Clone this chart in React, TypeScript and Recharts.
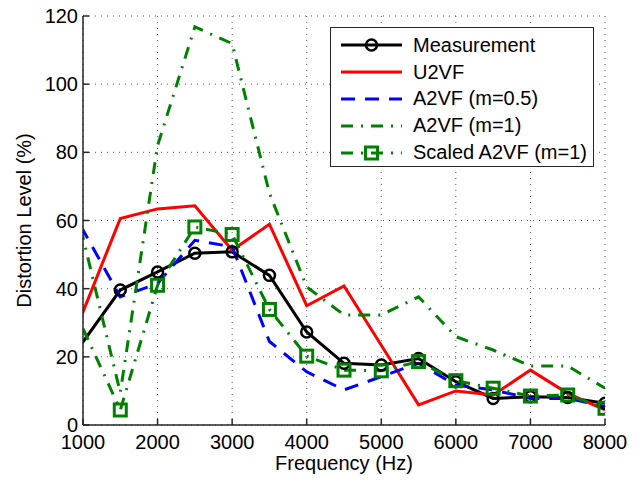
import { LineChart, Line, XAxis, YAxis, CartesianGrid } from "recharts";

// frequency points (Hz); the first point lies left of the visible axis and is clipped
const frequencies = [500, 1500, 2000, 2500, 3000, 3500, 4000, 4500, 5000, 5500, 6000, 6500, 7000, 7500, 8000];

// distortion level (%)
const measurement = [9.2, 39.6, 44.9, 50.4, 50.8, 43.9, 27.3, 18.1, 17.6, 19.5, 12.7, 7.8, 8.3, 8.1, 6.4];
const u2vf = [5.8, 60.6, 63.4, 64.3, 51.3, 58.9, 35.0, 40.8, 23.4, 5.9, 10.0, 8.8, 16.1, 9.3, 4.4];
const a2vfHalf = [76.8, 37.6, 41.5, 54.2, 52.3, 24.5, 15.6, 10.3, 14.2, 18.1, 11.7, 10.3, 7.8, 7.8, 5.4];
const a2vfOne = [100.5, 9.5, 82, 116.8, 111.9, 68, 40.5, 32.3, 32.3, 37.6, 25.9, 22, 17.3, 17.3, 10.8];
const scaledA2vf = [52.2, 4.4, 41, 58.1, 55.9, 33.9, 20.2, 16.1, 15.9, 18.6, 13, 10.8, 8.5, 8.8, 4.9];

const xTicks = [1000, 2000, 3000, 4000, 5000, 6000, 7000, 8000];
const yTicks = [0, 20, 40, 60, 80, 100, 120];
const X_MIN = 1000;
const X_MAX = 8000;

const FONT = '"Liberation Sans", Arial, Helvetica, sans-serif';
const AXIS = "#262626";

const data = frequencies.map((f, i) => ({
  freq: f,
  measurement: measurement[i],
  u2vf: u2vf[i],
  a2vfHalf: a2vfHalf[i],
  a2vfOne: a2vfOne[i],
  scaled: scaledA2vf[i],
}));

type Marker = "circle" | "square" | null;

const SERIES: { key: string; name: string; color: string; dash?: string; marker: Marker }[] = [
  { key: "measurement", name: "Measurement", color: "#000000", marker: "circle" },
  { key: "u2vf", name: "U2VF", color: "#ff0000", marker: null },
  { key: "a2vfHalf", name: "A2VF (m=0.5)", color: "#0000ff", dash: "14 10", marker: null },
  { key: "a2vfOne", name: "A2VF (m=1)", color: "#008000", dash: "12 8 2 8", marker: null },
  { key: "scaled", name: "Scaled A2VF (m=1)", color: "#008000", dash: "12 8 2 8", marker: "square" },
];

function drawMarker(marker: Marker, color: string, cx: number, cy: number) {
  if (marker === "circle") {
    return <circle cx={cx} cy={cy} r={5.5} fill="none" stroke={color} strokeWidth={2.5} />;
  }
  if (marker === "square") {
    return <rect x={cx - 6} y={cy - 6} width={12} height={12} fill="none" stroke={color} strokeWidth={3} />;
  }
  return null;
}

// marker for a Line; points outside the visible x range are not drawn
const MarkerDot = (props: any) => {
  const { cx, cy, payload, marker, color } = props;
  if (cx == null || cy == null || !payload || payload.freq < X_MIN) return <g />;
  return <g>{drawMarker(marker, color, cx, cy)}</g>;
};

const YLabel = (props: any) => {
  const vb = props.viewBox || {};
  const x = 24;
  const y = vb.y + vb.height / 2;
  return (
    <text
      x={x}
      y={y}
      transform={`rotate(-90 ${x} ${y})`}
      textAnchor="middle"
      dominantBaseline="central"
      fontSize={20}
      fontFamily={FONT}
      fill="#000"
    >
      Distortion Level (%)
    </text>
  );
};

const XLabel = (props: any) => {
  const vb = props.viewBox || {};
  return (
    <text x={vb.x + vb.width / 2} y={470} textAnchor="middle" fontSize={20} fontFamily={FONT} fill="#000">
      Frequency (Hz)
    </text>
  );
};

function LegendBox() {
  return (
    <div
      style={{
        position: "absolute",
        left: 330,
        top: 27,
        width: 264,
        height: 140,
        border: `1.5px solid ${AXIS}`,
        background: "#fff",
        paddingTop: 4,
        boxSizing: "border-box",
        fontFamily: FONT,
        fontSize: 20,
        color: "#000",
      }}
    >
      {SERIES.map((s) => (
        <div key={s.key} style={{ display: "flex", alignItems: "center", height: 26.8 }}>
          <svg width={64} height={20} style={{ marginLeft: 9, marginRight: 9 }}>
            <line x1={1} y1={10} x2={62} y2={10} stroke={s.color} strokeWidth={3} strokeDasharray={s.dash} />
            {drawMarker(s.marker, s.color, 31.5, 10)}
          </svg>
          <span>{s.name}</span>
        </div>
      ))}
    </div>
  );
}

export default function App() {
  const tickStyle = { fontSize: 20, fontFamily: FONT, fill: "#000" };
  return (
    <div style={{ position: "absolute", left: 0, top: 0, width: 642, height: 481, background: "#fff" }}>
      <LineChart width={642} height={481} data={data} margin={{ top: 16, right: 37, bottom: 0, left: 0 }}>
        <CartesianGrid stroke="#555" strokeDasharray="1 5" horizontalValues={yTicks} verticalValues={xTicks} />
        <XAxis
          dataKey="freq"
          type="number"
          domain={[X_MIN, X_MAX]}
          allowDataOverflow
          ticks={xTicks}
          height={56}
          tick={tickStyle}
          tickSize={-6}
          tickMargin={16}
          stroke={AXIS}
          strokeWidth={1.5}
          interval={0}
          label={<XLabel />}
        />
        <XAxis
          xAxisId="top"
          dataKey="freq"
          type="number"
          orientation="top"
          domain={[X_MIN, X_MAX]}
          allowDataOverflow
          ticks={xTicks}
          height={0}
          tick={false}
          tickSize={-6}
          stroke={AXIS}
          strokeWidth={1.5}
        />
        <YAxis
          type="number"
          domain={[0, 120]}
          ticks={yTicks}
          width={83}
          tick={tickStyle}
          tickSize={-6}
          tickMargin={11}
          stroke={AXIS}
          strokeWidth={1.5}
          interval={0}
          label={<YLabel />}
        />
        <YAxis
          yAxisId="right"
          type="number"
          orientation="right"
          domain={[0, 120]}
          ticks={yTicks}
          width={0}
          tick={false}
          tickSize={-6}
          stroke={AXIS}
          strokeWidth={1.5}
        />
        {SERIES.map((s) => (
          <Line
            key={s.key}
            dataKey={s.key}
            name={s.name}
            type="linear"
            stroke={s.color}
            strokeWidth={3}
            strokeDasharray={s.dash}
            isAnimationActive={false}
            dot={s.marker ? <MarkerDot marker={s.marker} color={s.color} clipDot={false} /> : false}
            activeDot={false}
          />
        ))}
      </LineChart>
      <LegendBox />
    </div>
  );
}
